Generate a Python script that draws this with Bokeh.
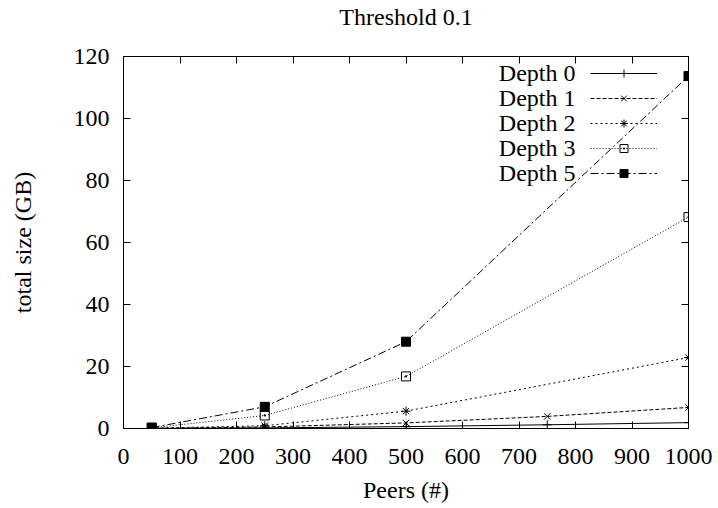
from bokeh.plotting import figure
from bokeh.models import (Range1d, LinearAxis, SingleIntervalTicker, Legend, LegendItem,
                          Label, CustomJSTickFormatter)
from bokeh.core.properties import value
from bokeh.embed import file_html
from bokeh.resources import INLINE

FONT = "Liberation Serif"
FS = "24px"

# ---- data ----
peers_a = [50, 250, 500, 750, 1000]
peers_b = [50, 250, 500, 1000]
depth0 = [0.02, 0.2, 0.6, 1.2, 1.9]
depth1 = [0.05, 0.5, 1.8, 3.9, 6.8]
depth2 = [0.1, 0.9, 5.6, 22.9]
depth3 = [0.2, 4.2, 16.8, 68.2]
depth5 = [0.3, 7.0, 28.0, 113.7]
labels = ["Depth 0", "Depth 1", "Depth 2", "Depth 3", "Depth 5"]
title_text = "Threshold 0.1"
x_ticks_interval = 100
y_ticks_interval = 20

series = [
    (peers_a, depth0, "solid", "cross", "black"),
    (peers_a, depth1, "4 2", "x", "black"),
    (peers_b, depth2, "2 3", "asterisk", "black"),
    (peers_b, depth3, "1 2", "square_dot", None),
    (peers_b, depth5, "8 3 2 3", "square", "black"),
]

p = figure(width=718, height=508, output_backend="svg", toolbar_location=None,
           x_range=Range1d(0, 1000), y_range=Range1d(0, 120),
           min_border_left=123, min_border_right=30, min_border_top=55,
           min_border_bottom=80)
p.background_fill_color = "white"
p.border_fill_color = "white"
p.outline_line_color = "black"
p.outline_line_width = 1
p.xgrid.visible = False
p.ygrid.visible = False

def style_axis(ax, ticker, show_labels=True):
    ax.ticker = ticker
    ax.major_tick_in = 7
    ax.major_tick_out = 0
    ax.minor_tick_line_color = None
    ax.axis_line_color = "black"
    ax.major_tick_line_color = "black"
    ax.major_label_text_font = FONT
    ax.major_label_text_font_size = FS
    ax.major_label_text_color = "black"
    ax.axis_label_text_font = FONT
    ax.axis_label_text_font_size = FS
    ax.axis_label_text_font_style = "normal"
    ax.axis_label_text_color = "black"
    if not show_labels:
        ax.formatter = CustomJSTickFormatter(code="return ''")
        ax.major_label_standoff = 0

xt = SingleIntervalTicker(interval=x_ticks_interval, num_minor_ticks=0)
yt = SingleIntervalTicker(interval=y_ticks_interval, num_minor_ticks=0)

style_axis(p.xaxis[0], xt)
style_axis(p.yaxis[0], yt)
p.xaxis[0].axis_label = "Peers (#)"
p.yaxis[0].axis_label = "total size (GB)"
p.xaxis[0].major_label_standoff = 20
p.xaxis[0].axis_label_standoff = 10
p.yaxis[0].major_label_standoff = 14
p.yaxis[0].axis_label_standoff = 35

top = LinearAxis()
right = LinearAxis()
style_axis(top, SingleIntervalTicker(interval=x_ticks_interval, num_minor_ticks=0), False)
style_axis(right, SingleIntervalTicker(interval=y_ticks_interval, num_minor_ticks=0), False)
top.axis_label = title_text
top.axis_label_standoff = 27
p.add_layout(top, "above")
p.add_layout(right, "right")

items = []
for (xs, ys, dash, marker, fill) in series:
    lr = p.line(xs, ys, line_color="black", line_width=1, line_dash=dash)
    sr = p.scatter(xs, ys, marker=marker, size=9, line_color="black", line_width=1,
                   fill_color=fill)
    items.append(LegendItem(label=value(""), renderers=[lr, sr]))

legend = Legend(items=items, location=(467, 245), glyph_width=67, glyph_height=20,
                label_width=0, label_height=20, label_standoff=0, spacing=5,
                padding=0, margin=0, background_fill_alpha=0, border_line_alpha=0)
p.add_layout(legend)

# legend texts, right-aligned to the left of the sample lines (frame-relative px)
frame_h = 508 - 55 - 80
row_y = [17, 42, 67, 92, 117]
for lab, ry in zip(labels, row_y):
    p.add_layout(Label(x=452, y=frame_h - ry, x_units="screen", y_units="screen", text=lab,
                       text_align="right", text_baseline="middle", text_font=FONT,
                       text_font_size=FS, text_color="black"))

open("out.html", "w").write(file_html(p, INLINE))
